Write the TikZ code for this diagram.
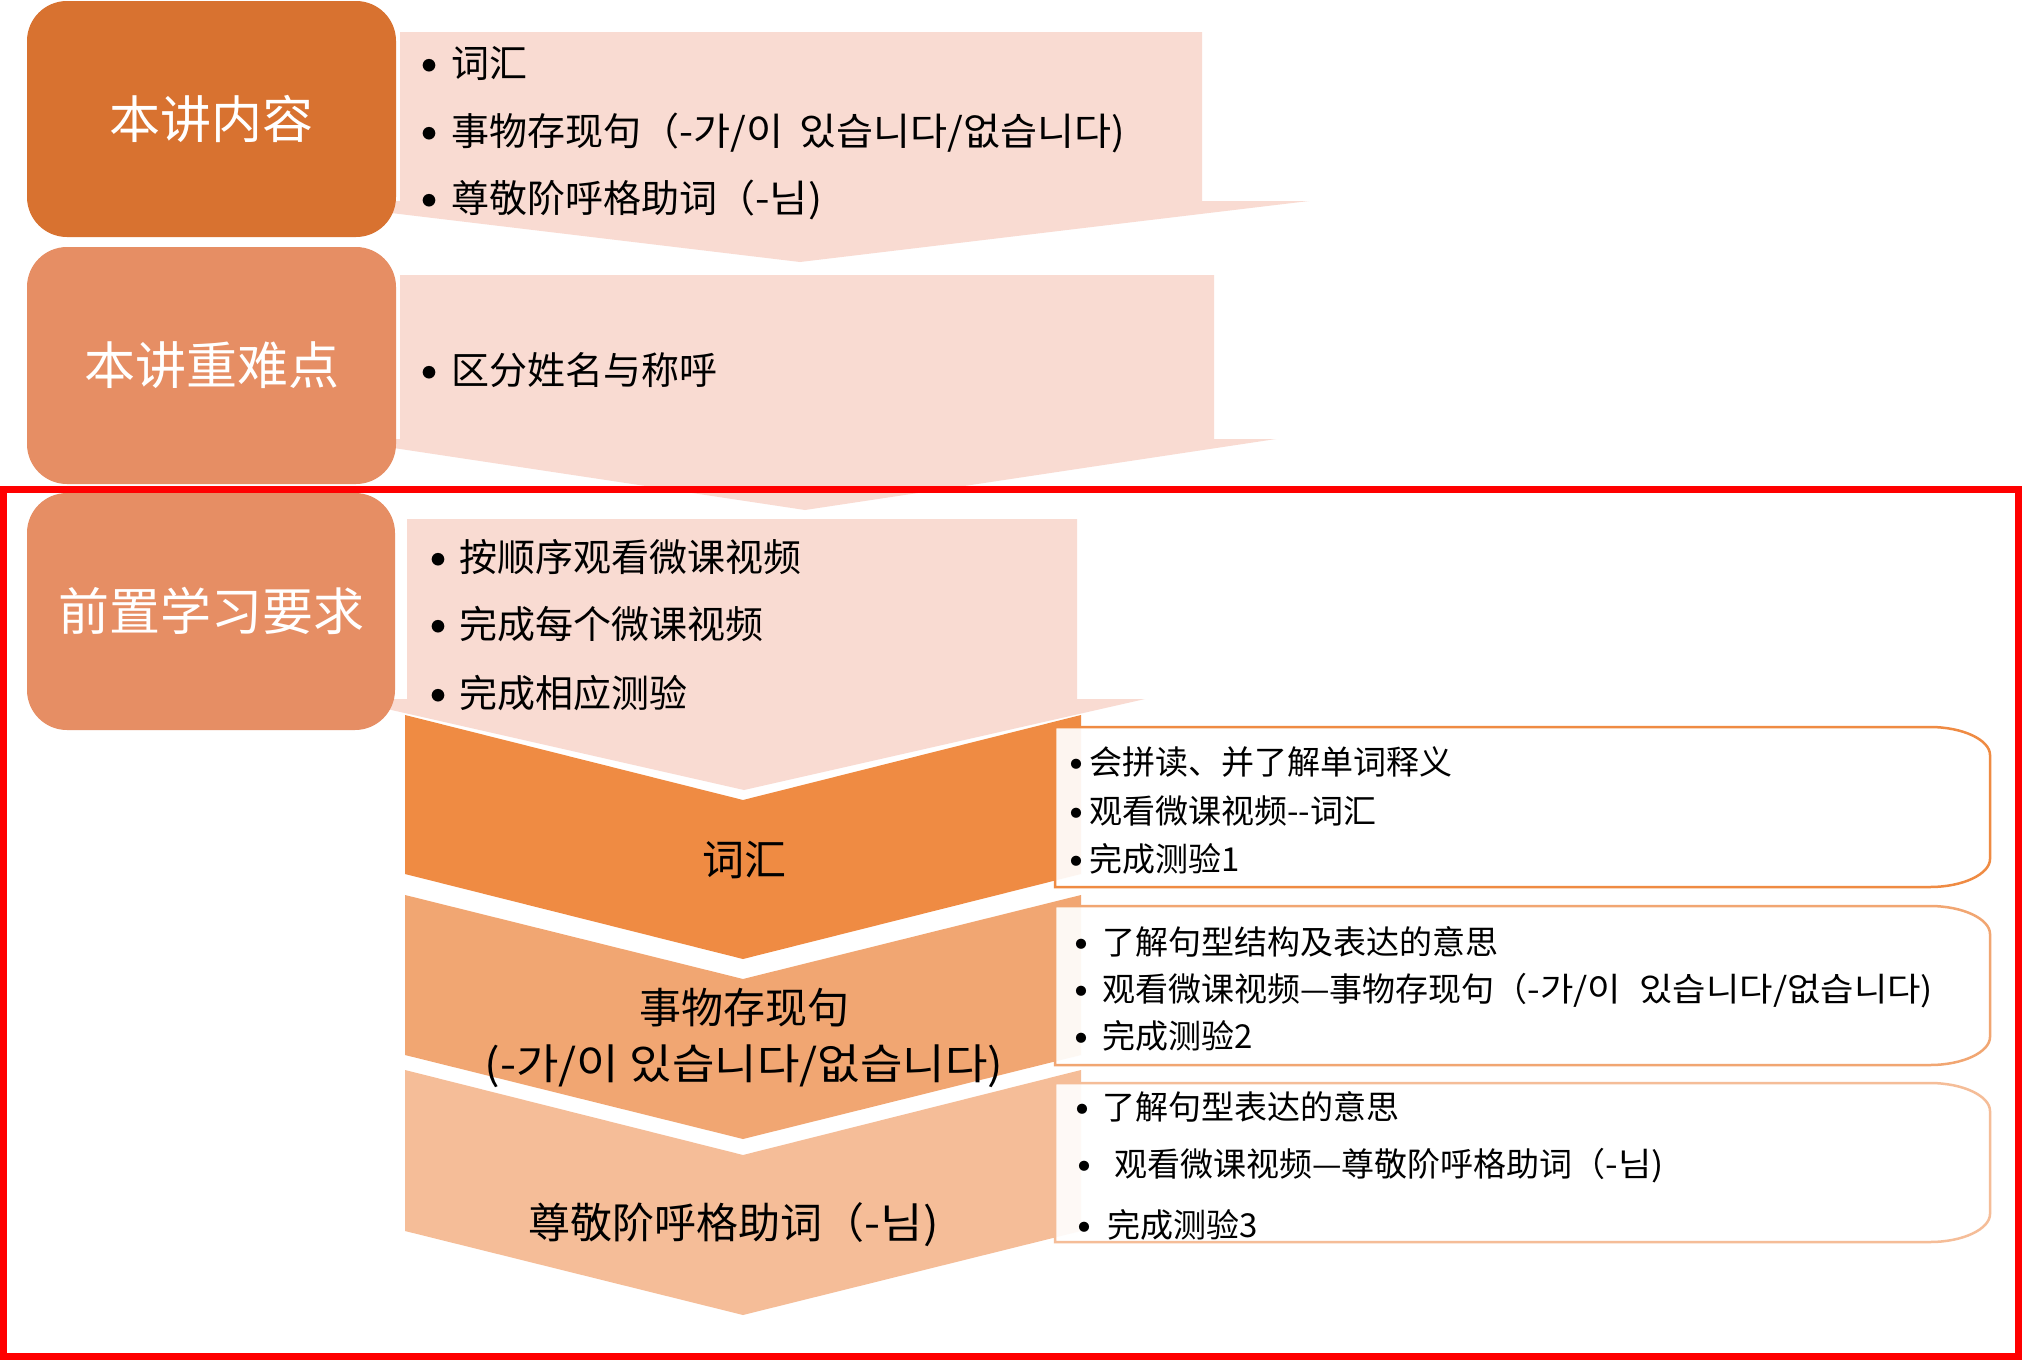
\documentclass[tikz,border=0pt]{standalone}
\usepackage{graphicx}
\usepackage{fontspec}
\setmainfont{Noto Sans CJK SC}
\definecolor{boxA}{HTML}{D87230}
\definecolor{boxB}{HTML}{E68E64}
\definecolor{pinkc}{HTML}{F9DBD2}
\definecolor{chevA}{HTML}{EF8B43}
\definecolor{chevB}{HTML}{F1A672}
\definecolor{chevC}{HTML}{F5BD98}
\definecolor{redc}{HTML}{FF0000}
\newcommand\fsLeft{\fontsize{51}{60}\selectfont}
\newcommand\fsArr{\fontsize{38}{46}\selectfont}
\newcommand\fsChev{\fontsize{42}{50}\selectfont}
\newcommand\fsBox{\fontsize{33}{40}\selectfont}
\newcommand\bulArr{\fontsize{60}{60}\selectfont}
\newcommand\bulBox{\fontsize{48}{48}\selectfont}
\newcommand\kr[2][1.1]{\scalebox{#1}[1]{#2}}
\newcommand\bdot{\makebox[0pt][c]{•}}
\begin{document}
\begin{tikzpicture}[x=1pt,y=-1pt,
  leftbox/.style={rounded corners=40pt},
  tL/.style={inner sep=0pt,text height=44.9pt,text depth=6.1pt,anchor=center,text=white,font=\fsLeft},
  tA/.style={inner sep=0pt,text height=33.4pt,text depth=4.6pt,anchor=west,font=\fsArr},
  tC/.style={inner sep=0pt,text height=37pt,text depth=5pt,anchor=center,font=\fsChev},
  tB/.style={inner sep=0pt,text height=29pt,text depth=4pt,anchor=west,font=\fsBox},
  bA/.style={inner sep=0pt,anchor=center,font=\bulArr,yshift=-11.4pt},
  bB/.style={inner sep=0pt,anchor=center,font=\bulBox,yshift=-9.1pt},
  tbox/.style={fill=white,fill opacity=0.92,draw opacity=1,line width=2.5pt}
]
\useasboundingbox (0,0) rectangle (2022,1360);
\fill[white] (0,0) rectangle (2022,1360);

% chevrons
\fill[chevA] (405,715) -- (743,800) -- (1081,715) -- (1081,874) -- (743,959) -- (405,874) -- cycle;
\fill[chevB] (405,895) -- (743,979) -- (1081,895) -- (1081,1055) -- (743,1139) -- (405,1055) -- cycle;
\fill[chevC] (405,1070) -- (743,1155) -- (1081,1070) -- (1081,1231) -- (743,1315) -- (405,1231) -- cycle;

% pink arrows
\fill[pinkc] (400,32) -- (1202,32) -- (1202,201) -- (1309,201) -- (800,262) -- (291,201) -- (400,201) -- cycle;
\fill[pinkc] (400,275) -- (1214,275) -- (1214,439) -- (1276,439) -- (805,510) -- (334,439) -- (400,439) -- cycle;
\fill[pinkc] (407,519) -- (1077,519) -- (1077,699) -- (1145,699) -- (744,790) -- (343,699) -- (407,699) -- cycle;

% left boxes
\fill[boxA,leftbox] (27,1) rectangle (396,237);
\fill[boxB,leftbox] (27,247) rectangle (396,484);
\fill[boxB,leftbox] (27,493) rectangle (395,730);
\node[tL] (l1) at (211.5,119) {本讲内容};
\node[tL] (l2) at (211.5,365.5) {本讲重难点};
\node[tL] (l3) at (211,611.5) {前置学习要求};

% arrow texts
\node[bA] (a1b1) at (429,63) {\bdot};
\node[tA] (a1t1) at (451,63) {词汇};
\node[bA] (a1b2) at (429,131) {\bdot};
\node[tA] (a1t2) at (451,131) {事物存现句（\kr[1.06]{-가/이\hspace{0.4em}있습니다/없습니다)}};
\node[bA] (a1b3) at (429,198) {\bdot};
\node[tA] (a1t3) at (451,198) {尊敬阶呼格助词（\kr{-님)}};
\node[bA] (a2b1) at (429,370) {\bdot};
\node[tA] (a2t1) at (451,370) {区分姓名与称呼};
\node[bA] (a3b1) at (438,557) {\bdot};
\node[tA] (a3t1) at (459,557) {按顺序观看微课视频};
\node[bA] (a3b2) at (438,624) {\bdot};
\node[tA] (a3t2) at (459,624) {完成每个微课视频};
\node[bA] (a3b3) at (438,693) {\bdot};
\node[tA] (a3t3) at (459,693) {完成相应测验};

% chevron texts
\node[tC] (c1) at (744,859) {词汇};
\node[tC] (c2a) at (744,1007) {事物存现句};
\node[tC] (c2b) at (744,1063) {\kr{(-가/이 있습니다/없습니다)}};
\node[tC] (c3) at (734,1222) {尊敬阶呼格助词（\kr{-님)}};

% text boxes
\path[tbox,draw=chevA] (1055,727) -- (1930,727) .. controls (1963,727) and (1990,740) .. (1990,755)
  -- (1990,859) .. controls (1990,874) and (1963,887) .. (1930,887) -- (1055,887) -- cycle;
\path[tbox,draw=chevB] (1055,906) -- (1930,906) .. controls (1963,906) and (1990,919) .. (1990,934)
  -- (1990,1037) .. controls (1990,1052) and (1963,1065) .. (1930,1065) -- (1055,1065) -- cycle;
\path[tbox,draw=chevC] (1055,1083) -- (1930,1083) .. controls (1963,1083) and (1990,1096) .. (1990,1111)
  -- (1990,1214) .. controls (1990,1229) and (1963,1242) .. (1930,1242) -- (1055,1242) -- cycle;

\node[bB] (b1b1) at (1076,762) {\bdot};
\node[tB] (b1t1) at (1089,762) {会拼读、并了解单词释义};
\node[bB] (b1b2) at (1076,811) {\bdot};
\node[tB] (b1t2) at (1089,811) {观看微课视频-{}-词汇};
\node[bB] (b1b3) at (1076,859) {\bdot};
\node[tB] (b1t3) at (1089,859) {完成测验1};

\node[bB] (b2b1) at (1081,942) {\bdot};
\node[tB] (b2t1) at (1102,942) {了解句型结构及表达的意思};
\node[bB] (b2b2) at (1081,989) {\bdot};
\node[tB] (b2t2) at (1102,989) {观看微课视频—事物存现句（\kr{-가/이\hspace{0.5em}있습니다/없습니다)}};
\node[bB] (b2b3) at (1081,1036) {\bdot};
\node[tB] (b2t3) at (1102,1036) {完成测验2};

\node[bB] (b3b1) at (1082,1107) {\bdot};
\node[tB] (b3t1) at (1102,1107) {了解句型表达的意思};
\node[bB] (b3b2) at (1084,1164) {\bdot};
\node[tB] (b3t2) at (1114,1164) {观看微课视频—尊敬阶呼格助词（\kr{-님)}};
\node[bB] (b3b3) at (1084,1225) {\bdot};
\node[tB] (b3t3) at (1107,1225) {完成测验3};

% red frame
\draw[redc,line width=7pt] (3.5,489) rectangle (2018.5,1356.5);
\end{tikzpicture}
\end{document}
